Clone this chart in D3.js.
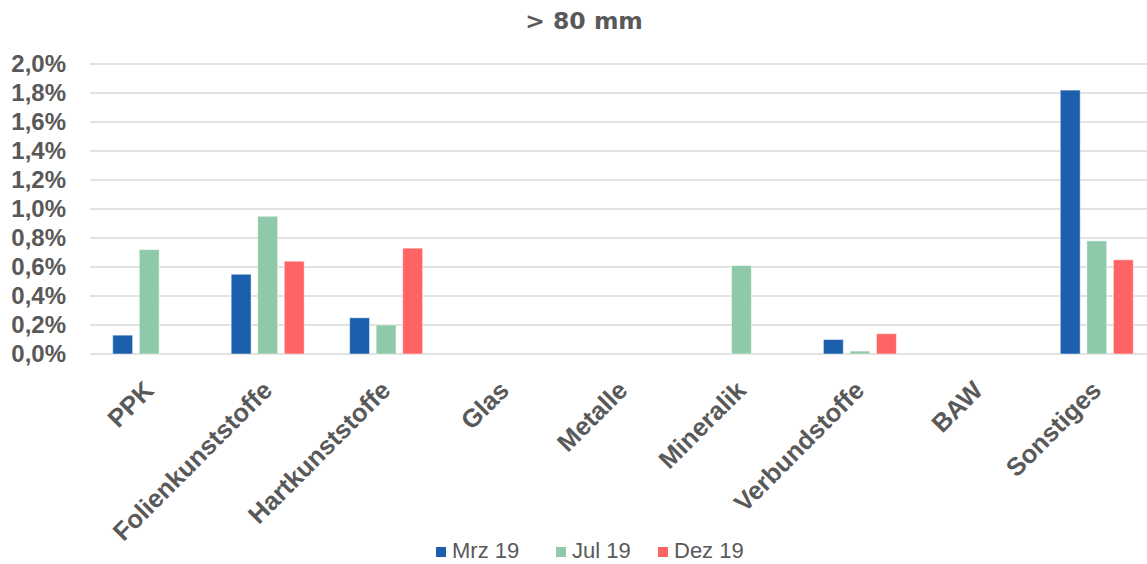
<!DOCTYPE html>
<html>
<head>
<meta charset="utf-8">
<script src="https://cdn.jsdelivr.net/npm/d3@7"></script>
<style>
  html, body { margin: 0; padding: 0; background: #ffffff; }
  svg { display: block; font-family: "Liberation Sans", Arial, sans-serif; }
</style>
</head>
<body>
<svg id="chart" width="1147" height="564"></svg>
<script>
// Fraktionsanteile > 80 mm, in Prozent
const categories = ["PPK", "Folienkunststoffe", "Hartkunststoffe", "Glas", "Metalle",
                    "Mineralik", "Verbundstoffe", "BAW", "Sonstiges"];
const seriesNames = ["Mrz 19", "Jul 19", "Dez 19"];
const mrz19 = [0.13, 0.55, 0.25, 0, 0, 0, 0.10, 0, 1.82];
const jul19 = [0.72, 0.95, 0.20, 0, 0, 0.61, 0.02, 0, 0.78];
const dez19 = [0, 0.64, 0.73, 0, 0, 0, 0.14, 0, 0.65];
const yTicks = [0, 0.2, 0.4, 0.6, 0.8, 1.0, 1.2, 1.4, 1.6, 1.8, 2.0];
const colors = ["#1c5fad", "#8ecaa9", "#ff6464"];
const titleText = "> 80 mm";

const values = [mrz19, jul19, dez19];
const svg = d3.select("#chart");
const textColor = "#595959";

const x = d3.scaleBand().domain(categories).range([90, 1156]).padding(0);
const xSub = d3.scaleBand().domain(seriesNames).range([-36.5, 36.5]).paddingInner(0.25);
const y = d3.scaleLinear().domain([0, 2.0]).range([354, 64]);

const fmt = v => d3.format(".1f")(v).replace(".", ",") + "%";

// Gitterlinien
svg.append("g")
  .selectAll("line")
  .data(yTicks)
  .join("line")
  .attr("x1", 90).attr("x2", 1156)
  .attr("y1", d => y(d)).attr("y2", d => y(d))
  .attr("stroke", "#d9d9d9")
  .attr("stroke-width", 1.6);

// Y-Achse
const yAxis = svg.append("g")
  .attr("transform", "translate(66,0)")
  .call(d3.axisLeft(y).tickValues(yTicks).tickFormat(fmt).tickSize(0).tickPadding(0));
yAxis.select(".domain").remove();
yAxis.selectAll("text")
  .attr("fill", textColor)
  .attr("font-size", 24)
  .attr("font-weight", "bold")
  .attr("font-family", "'Liberation Sans', Arial, sans-serif");

// Balken
const groups = svg.append("g")
  .selectAll("g")
  .data(categories)
  .join("g")
  .attr("transform", d => `translate(${x(d) + x.bandwidth() / 2},0)`);

groups.selectAll("rect")
  .data((c, i) => seriesNames.map((s, k) => ({ s, v: values[k][i], k })).filter(d => d.v > 0))
  .join("rect")
  .attr("x", d => xSub(d.s))
  .attr("width", xSub.bandwidth())
  .attr("y", d => y(d.v))
  .attr("height", d => y(0) - y(d.v))
  .attr("fill", d => colors[d.k])
  .attr("stroke", "#ffffff")
  .attr("stroke-opacity", 0.5)
  .attr("stroke-width", 1);

// X-Achse
const xAxis = svg.append("g")
  .attr("transform", "translate(0,354)")
  .call(d3.axisBottom(x).tickSize(0).tickPadding(0));
xAxis.select(".domain").remove();
xAxis.selectAll("text")
  .attr("fill", textColor)
  .attr("font-size", 25.5)
  .attr("font-weight", "bold")
  .attr("font-family", "'Liberation Sans', Arial, sans-serif")
  .attr("text-anchor", "end")
  .attr("dy", 0)
  .attr("y", 0)
  .attr("transform", "translate(6,38) rotate(-45)");

// Titel
svg.append("text")
  .attr("x", 584).attr("y", 29)
  .attr("text-anchor", "middle")
  .attr("fill", textColor)
  .attr("font-family", "'DejaVu Sans', sans-serif")
  .attr("font-size", 23.5)
  .attr("font-weight", "bold")
  .text(titleText);

// Legende
const legendX = [436, 556, 658];
const legend = svg.append("g")
  .selectAll("g")
  .data(seriesNames)
  .join("g")
  .attr("transform", (d, i) => `translate(${legendX[i]},547)`);
legend.append("rect")
  .attr("width", 10).attr("height", 10)
  .attr("fill", (d, i) => colors[i]);
legend.append("text")
  .attr("x", 16).attr("y", 11)
  .attr("fill", textColor)
  .attr("font-size", 22)
  .text(d => d);
</script>
</body>
</html>
